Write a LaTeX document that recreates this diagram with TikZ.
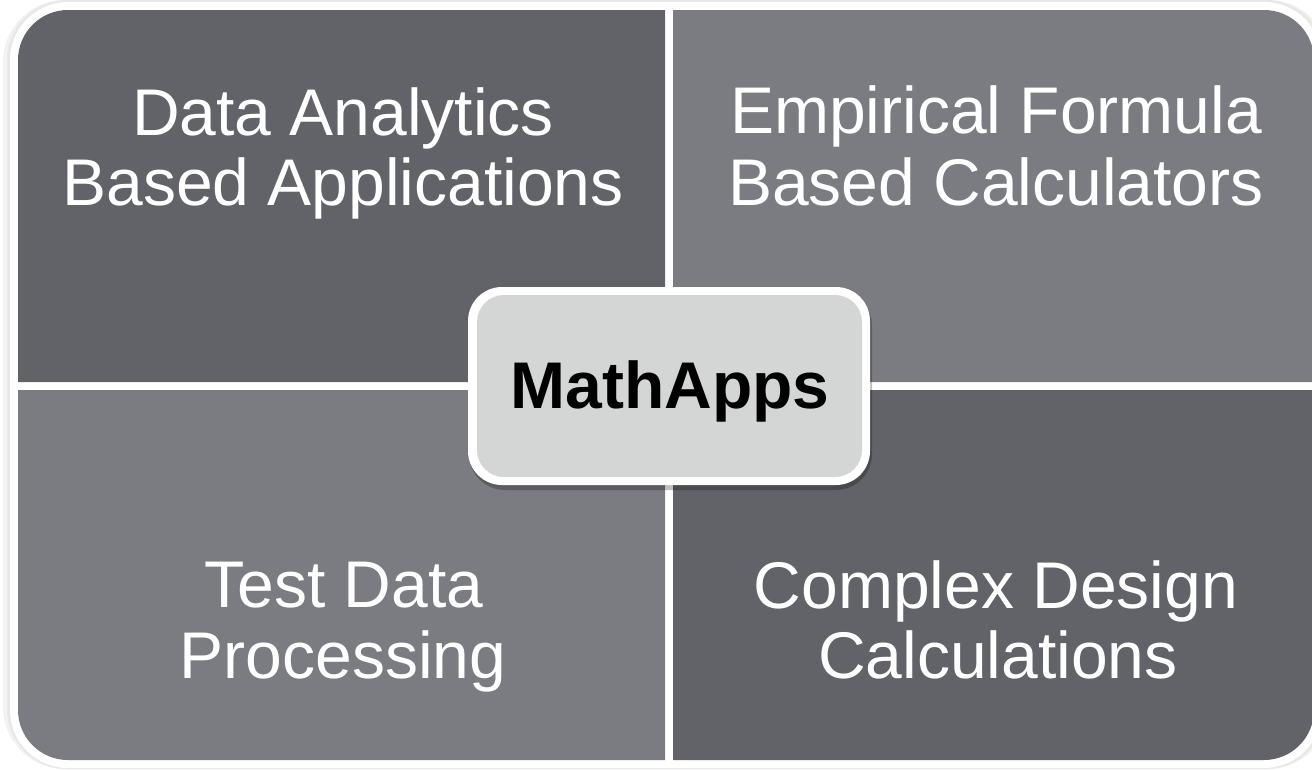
\documentclass[tikz,border=0pt]{standalone}
\usepackage{fontspec}
\setmainfont{Liberation Sans}
\definecolor{dk}{RGB}{98,99,104}
\definecolor{lt}{RGB}{123,124,129}
\definecolor{cfill}{RGB}{212,213,213}
\begin{document}
\begin{tikzpicture}[x=1pt,y=-1pt,
  lbl/.style={text=white, font=\fontsize{66}{70}\selectfont, anchor=base, inner sep=0pt},
  ctr/.style={text=black, font=\fontsize{66}{70}\selectfont\bfseries, anchor=base, inner sep=0pt}]
\useasboundingbox (0,0) rectangle (1312,769);
\clip (0,0) rectangle (1312,769);
\fill[white] (0,0) rectangle (1312,769);
% faint outer shadow
\fill[black!5, rounded corners=62] (3,0) rectangle (1330,769);
\fill[black!9, rounded corners=60] (7,0) rectangle (1326,769);
% white outer border
\fill[white, rounded corners=58] (10,2) rectangle (1322,768);
% quadrants
\fill[dk] (18,382) -- (18,60) arc[start angle=180,end angle=270,radius=50] -- (665,10) -- (665,382) -- cycle;
\fill[lt] (673,10) -- (1264,10) arc[start angle=270,end angle=360,radius=50] -- (1314,382) -- (673,382) -- cycle;
\fill[lt] (18,390) -- (665,390) -- (665,760) -- (68,760) arc[start angle=90,end angle=180,radius=50] -- cycle;
\fill[dk] (673,390) -- (1314,390) -- (1314,710) arc[start angle=0,end angle=90,radius=50] -- (673,760) -- cycle;
% quadrant labels
\node[lbl] (tl1) at (343,135) {Data Analytics};
\node[lbl] (tl2) at (343,205) {Based Applications};
\node[lbl] (tr1) at (996,133) {Empirical Formula};
\node[lbl] (tr2) at (996,205) {Based Calculators};
\node[lbl] (bl1) at (344,607) {Test Data};
\node[lbl] (bl2) at (343,678) {Processing};
\node[lbl] (br1) at (996,608) {Complex Design};
\node[lbl] (br2) at (998,678) {Calculations};
% centre box
\fill[black, opacity=0.25, rounded corners=36] (469,290) rectangle (872,490);
\fill[white, rounded corners=34] (468,287) rectangle (870,485);
\fill[cfill, rounded corners=27] (477,295) rectangle (862,477);
\node[ctr] (center) at (670,408) {MathApps};
\end{tikzpicture}
\end{document}
